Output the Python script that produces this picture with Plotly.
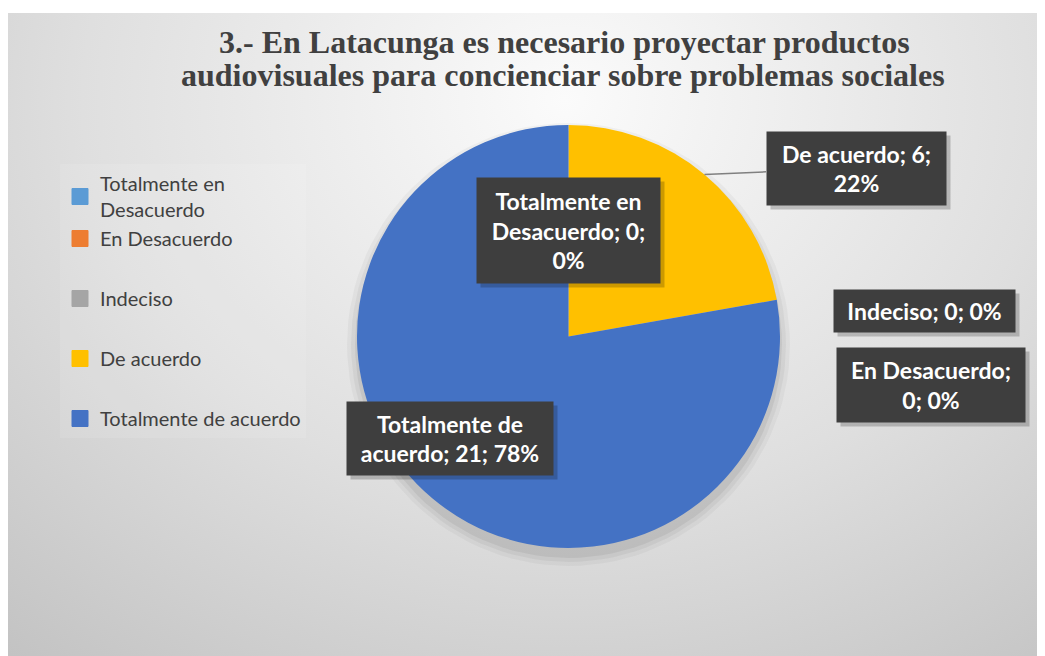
import math
import textwrap
import plotly.graph_objects as go

# data
labels = ["Totalmente en Desacuerdo", "En Desacuerdo", "Indeciso",
          "De acuerdo", "Totalmente de acuerdo"]
values = [0, 0, 0, 6, 21]
colors = ["#5B9BD5", "#ED7D31", "#A5A5A5", "#FFC000", "#4472C4"]
legend_text = ["Totalmente en<br>Desacuerdo", "En Desacuerdo", "Indeciso",
               "De acuerdo", "Totalmente de acuerdo"]
legend_groups = ["g1", "g1", "g2", "g3", "g4"]
title_lines = ["3.- En Latacunga es necesario proyectar productos",
               "audiovisuales para concienciar sobre problemas sociales"]

W, H = 1045, 656
OFF = 8          # page body margin
L, T = 0, 5
# pie geometry in page pixels
cx, cy, r = 568.5, 336.5, 211.5

# label boxes (page px): center x, center y, width, height, wrap width
boxes = {
    "Totalmente en Desacuerdo": (568, 230, 183, 105, 14),
    "De acuerdo": (856, 168, 179, 73, 14),
    "Indeciso": (924, 311, 181, 42, 16),
    "En Desacuerdo": (931, 385, 188, 74, 14),
    "Totalmente de acuerdo": (450, 438, 206, 73, 16),
}

total = sum(values)
x0, y0 = OFF + L, OFF + T
pw, ph = W - L, H - T

fig = go.Figure()

# background radial gradient
fig.add_trace(go.Scatter(
    x=[-400, 1530, 1530, -400, -400], y=[-700, -700, 900, 900, -700],
    fill="toself", mode="lines", line=dict(width=0),
    fillgradient=dict(type="radial",
                      colorscale=[[0, "#fbfbfb"], [0.5, "#dfdfdf"], [1, "#bcbcbc"]]),
    hoverinfo="skip", showlegend=False,
))

# soft shadow under the pie
n = 120
for dr, a in [(10, 0.035), (6, 0.045), (2, 0.06)]:
    fig.add_trace(go.Scatter(
        x=[cx + (r + dr) * math.cos(2 * math.pi * i / n) for i in range(n + 1)],
        y=[cy + 8 + (r + dr) * math.sin(2 * math.pi * i / n) for i in range(n + 1)],
        fill="toself", mode="lines", line=dict(width=0),
        fillcolor=f"rgba(0,0,0,{a})", hoverinfo="skip", showlegend=False,
    ))

fig.add_trace(go.Pie(
    labels=labels, values=values, sort=False, direction="clockwise",
    rotation=0, marker=dict(colors=colors, line=dict(width=0)),
    textinfo="none", showlegend=False, hoverinfo="label+value+percent",
    domain=dict(x=[(cx - r - x0) / pw, (cx + r - x0) / pw],
                y=[1 - (cy + r - y0) / ph, 1 - (cy - r - y0) / ph]),
))

# legend entries
for name, col, grp in zip(legend_text, colors, legend_groups):
    fig.add_trace(go.Scatter(
        x=[None], y=[None], mode="markers", name=name, legendgroup=grp,
        marker=dict(symbol="square", size=16, color=col,
                    line=dict(width=1, color=col)),
    ))

annotations = []
cum = 0
for lab, v in zip(labels, values):
    mid = (cum + v / 2) / total * 2 * math.pi
    cum += v
    bx, by, bw, bh, wrap = boxes[lab]
    pct = round(100 * v / total)
    txt = "<br>".join(textwrap.wrap(f"{lab}; {v}; {pct}%", wrap))
    # drop shadow
    annotations.append(dict(
        x=bx + 4, y=by + 4, xref="x", yref="y", text="", showarrow=False,
        width=bw, height=bh, bgcolor="rgba(0,0,0,0.2)", borderpad=0,
    ))
    ann = dict(
        x=bx, y=by, xref="x", yref="y", text=txt, showarrow=False,
        width=bw, height=bh, bgcolor="#3e3e3e", borderpad=0,
        font=dict(family="Lato", size=23, color="white", weight="bold"),
        align="center", valign="middle",
    )
    if lab == "De acuerdo":
        ann.update(
            x=cx + r * math.sin(mid), y=cy - r * math.cos(mid),
            ax=bx, ay=by, axref="x", ayref="y", showarrow=True,
            arrowhead=0, arrowwidth=1.5, arrowcolor="#808080",
        )
    annotations.append(ann)

for line, tx, ty in zip(title_lines, [564, 563], [42, 75]):
    annotations.append(dict(
        x=tx, y=ty, xref="x", yref="y", text=line, showarrow=False,
        font=dict(family="Liberation Serif", size=32, color="#404040",
                  weight="bold"),
        yanchor="middle",
    ))

fig.update_layout(
    width=W, height=H, autosize=False,
    margin=dict(l=L, r=0, t=T, b=0),
    paper_bgcolor="white", plot_bgcolor="white",
    xaxis=dict(range=[x0, OFF + W], visible=False, fixedrange=True),
    yaxis=dict(range=[OFF + H, y0], visible=False, fixedrange=True),
    annotations=annotations,
    showlegend=True,
    legend=dict(
        x=(60 - x0) / pw, y=1 - (164 - y0) / ph, xanchor="left", yanchor="top",
        font=dict(family="Lato", size=20, color="#404040"),
        bgcolor="rgba(255,255,255,0.1)", tracegroupgap=31,
        traceorder="grouped",
    ),
)

fig.write_html("out.html")
